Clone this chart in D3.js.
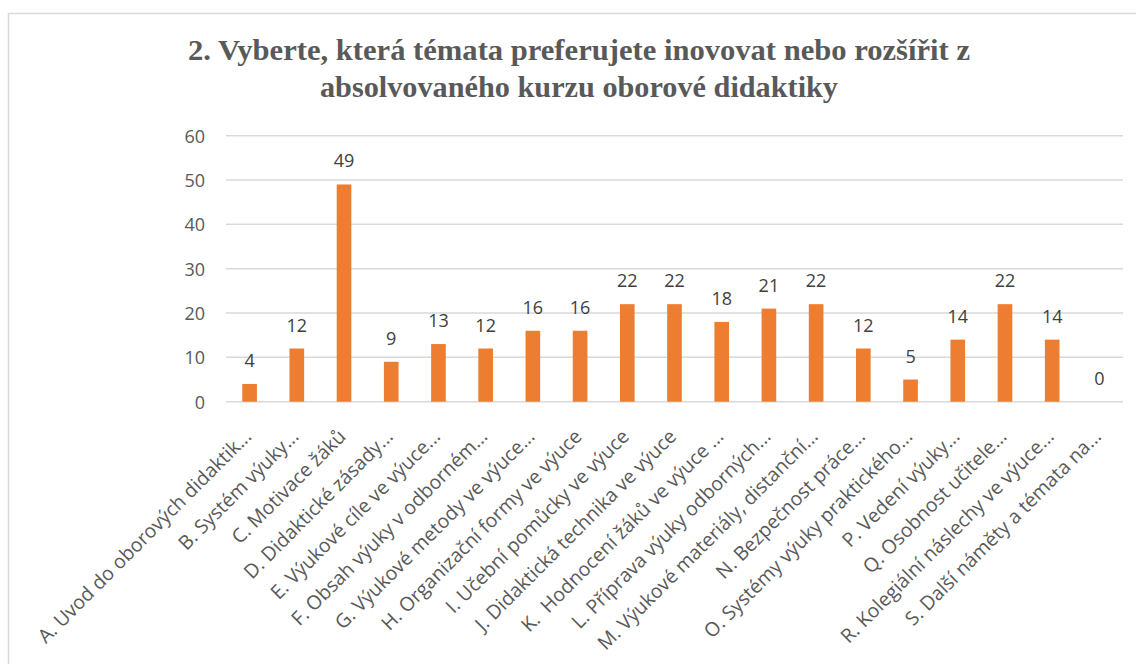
<!DOCTYPE html>
<html><head><meta charset="utf-8">
<script src="https://cdn.jsdelivr.net/npm/d3@7"></script>
<style>body{margin:0;background:#fff;} svg{display:block;}</style>
</head><body>
<svg id="chart" width="1136" height="664"></svg>
<script>
const titleLines = ["2. Vyberte, která témata preferujete inovovat nebo rozšířit z", "absolvovaného kurzu oborové didaktiky"];
const categories = [
  "A. Uvod do oborových didaktik...",
  "B. Systém výuky...",
  "C. Motivace žáků",
  "D. Didaktické zásady...",
  "E. Výukové cíle ve výuce...",
  "F. Obsah výuky v odborném...",
  "G. Výukové metody ve výuce...",
  "H. Organizační formy ve výuce",
  "I. Učební pomůcky ve výuce",
  "J. Didaktická technika ve výuce",
  "K.  Hodnocení žáků ve výuce ...",
  "L. Příprava výuky odborných...",
  "M. Výukové materiály, distanční...",
  "N. Bezpečnost práce...",
  "O. Systémy výuky praktického...",
  "P. Vedení výuky...",
  "Q. Osobnost učitele...",
  "R. Kolegiální náslechy ve výuce...",
  "S. Další náměty a témata na..."
];
const values = [4, 12, 49, 9, 13, 12, 16, 16, 22, 22, 18, 21, 22, 12, 5, 14, 22, 14, 0];
const yTicks = [0, 10, 20, 30, 40, 50, 60];

const svg = d3.select("#chart");
const plotLeft = 226, plotRight = 1123, plotTop = 135.7, plotBottom = 401.7;
const textColor = "#595959";
const font = "'Open Sans', 'Liberation Sans', sans-serif";

svg.append("rect").attr("x", 8.5).attr("y", 13.5).attr("width", 1200).attr("height", 700)
  .attr("fill", "#fff").attr("stroke", "#d9d9d9").attr("stroke-width", 1.5);

// title
const titleY = [60, 96.5];
const titleW = [782, 518];
titleLines.forEach((t, i) => {
  svg.append("text").attr("x", 579).attr("y", titleY[i])
    .attr("text-anchor", "middle")
    .attr("font-family", "'Liberation Serif', 'Times New Roman', serif")
    .attr("font-weight", "bold").attr("font-size", 30)
    .attr("fill", textColor)
    .attr("textLength", titleW[i]).attr("lengthAdjust", "spacingAndGlyphs")
    .text(t);
});

const x = d3.scaleBand().domain(categories).range([plotLeft, plotRight]).paddingInner(0.69).paddingOuter(0.345);
const y = d3.scaleLinear().domain([0, 60]).range([plotBottom, plotTop]);

// gridlines
svg.append("g").selectAll("line").data(yTicks).join("line")
  .attr("x1", plotLeft).attr("x2", plotRight)
  .attr("y1", d => y(d)).attr("y2", d => y(d))
  .attr("stroke", "#d9d9d9").attr("stroke-width", 1.5);

// y axis labels
const yAxis = d3.axisLeft(y).tickValues(yTicks).tickSize(0).tickPadding(0);
const gy = svg.append("g").attr("transform", `translate(205,0)`).call(yAxis);
gy.select(".domain").remove();
gy.selectAll("text").attr("font-family", font).attr("font-size", 18).attr("fill", textColor).attr("dy", "0.36em");

// bars
svg.append("g").selectAll("rect").data(values).join("rect")
  .attr("x", (d, i) => x(categories[i]))
  .attr("y", d => y(d))
  .attr("width", x.bandwidth())
  .attr("height", d => plotBottom - y(d))
  .attr("fill", "#ED7D31");

// data labels
svg.append("g").selectAll("text").data(values).join("text")
  .attr("x", (d, i) => x(categories[i]) + x.bandwidth() / 2)
  .attr("y", d => y(d) - 17)
  .attr("text-anchor", "middle")
  .attr("font-family", font).attr("font-size", 18).attr("fill", "#404040")
  .text(d => d);

// category labels
const xAxis = d3.axisBottom(x).tickSize(0).tickPadding(0);
const gx = svg.append("g").attr("transform", `translate(0,${plotBottom})`).call(xAxis);
gx.select(".domain").remove();
gx.selectAll("text")
  .attr("font-family", font).attr("font-size", 19.5).attr("fill", textColor)
  .attr("text-anchor", "end")
  .attr("x", 0).attr("y", 0).attr("dy", 0)
  .attr("transform", "translate(3,36) rotate(-45)")
  .style("white-space", "pre");
</script>
</body></html>
